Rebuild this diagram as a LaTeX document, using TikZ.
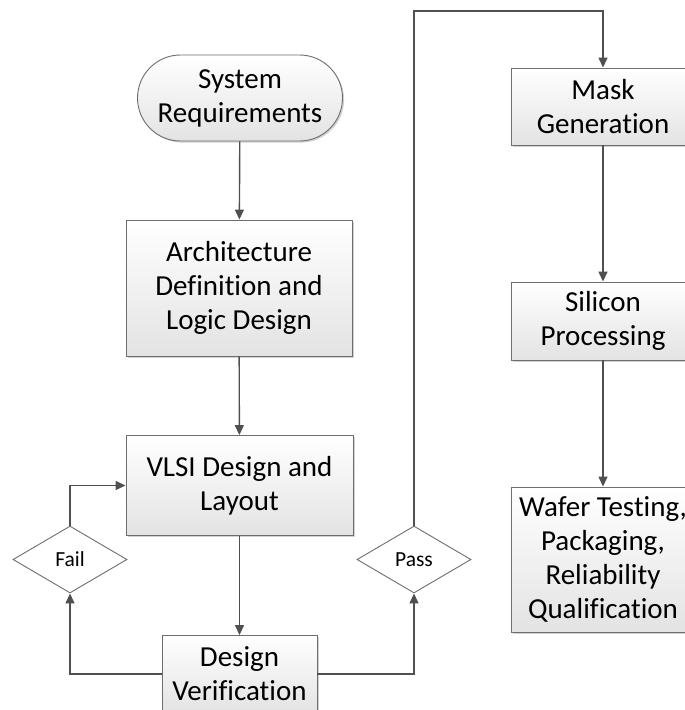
\documentclass[tikz,border=0pt]{standalone}
\usepackage{fontspec}
\setmainfont{Carlito}[Ligatures={NoCommon,NoRare,NoContextual}]
\usetikzlibrary{arrows.meta,shapes.geometric,shadows}
\definecolor{linegray}{HTML}{505050}
\definecolor{edgegray}{HTML}{6E6E6E}
\tikzset{
  every node/.style={font=\fontsize{29}{34}\selectfont, text=black},
  procbox/.style={draw=edgegray, line width=0.9pt, rectangle, align=center,
    top color=white, bottom color=black!11, inner sep=0pt,
    drop shadow={shadow xshift=1.6pt, shadow yshift=-1.6pt, fill=black!22, opacity=0.8}},
  startbox/.style={procbox, rounded corners=43pt},
  decision/.style={draw=edgegray, line width=0.9pt, diamond, aspect=1.7,
    fill=white, inner sep=0pt, font=\fontsize{21.5}{24}\selectfont},
  flow/.style={draw=linegray, line width=1.4pt,
    -{Triangle[length=10pt,width=9pt]}},
}
\begin{document}
\begin{tikzpicture}[x=1pt,y=-1pt]
\clip (0,0) rectangle (685,710);
\fill[white] (0,0) rectangle (685,710);

% left column: design flow
\node[startbox, minimum width=205pt, minimum height=86pt] (req) at (240,98) {System\\Requirements};
\node[procbox, minimum width=226pt, minimum height=136pt] (arch) at (239,288) {Architecture\\Definition and\\Logic Design};
\node[procbox, minimum width=227pt, minimum height=100pt] (vlsi) at (239.5,485.5) {VLSI Design and\\Layout};
\node[procbox, minimum width=155pt, minimum height=77pt] (verif) at (239.5,674) {Design\\Verification};

% decisions
\node[decision, minimum width=114pt, minimum height=67pt] (fail) at (70,559.5) {Fail};
\node[decision, minimum width=114pt, minimum height=67pt] (pass) at (414,559.5) {Pass};

% right column: fabrication
\node[procbox, minimum width=184pt, minimum height=77pt] (mask) at (603,106.5) {Mask\\Generation};
\node[procbox, minimum width=184pt, minimum height=78pt] (silicon) at (603,321) {Silicon\\Processing};
\node[procbox, minimum width=184pt, minimum height=145pt] (wafer) at (603,559.5) {Wafer Testing,\\Packaging,\\Reliability\\Qualification};

\coordinate (top) at (414,11);

% connectors
\draw[flow] (req) -- (arch);
\draw[flow] (arch) -- (vlsi);
\draw[flow] (vlsi) -- (verif);
\draw[flow] (verif.west) -| (fail.south);
\draw[flow] (fail.north) |- (vlsi.west);
\draw[flow] (verif.east) -| (pass.south);
\draw[flow] (pass.north) -- (top) -| (mask.north);
\draw[flow] (mask) -- (silicon);
\draw[flow] (silicon) -- (wafer);
\end{tikzpicture}
\end{document}
